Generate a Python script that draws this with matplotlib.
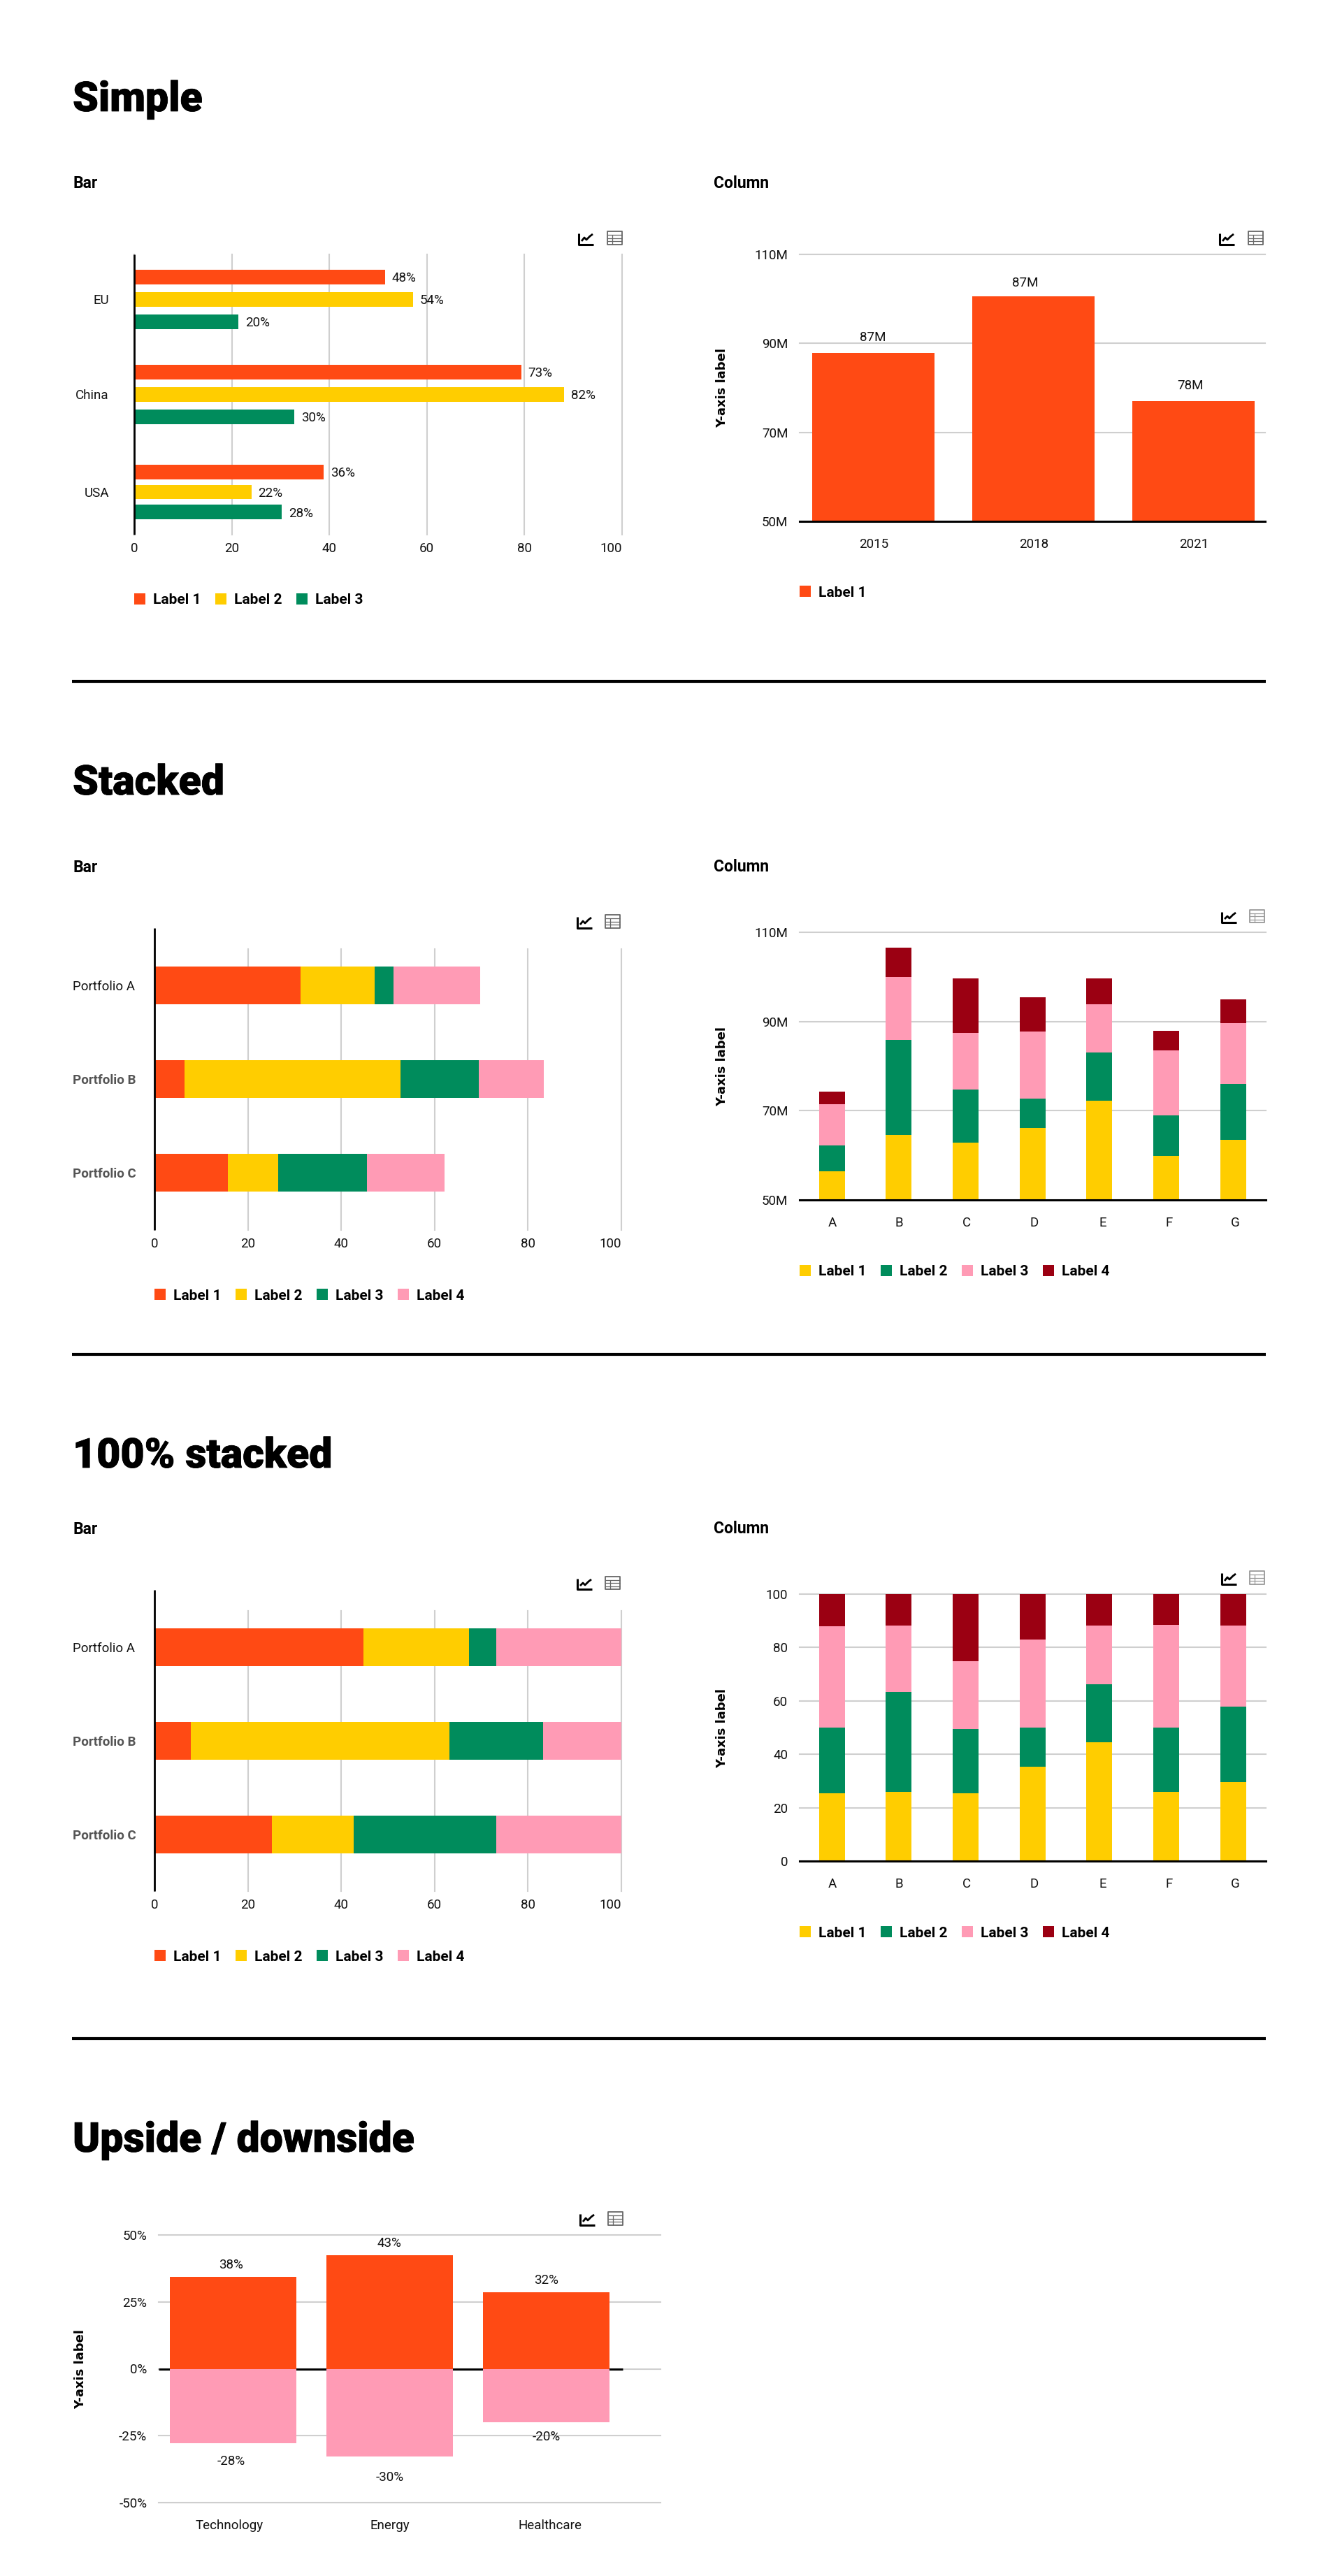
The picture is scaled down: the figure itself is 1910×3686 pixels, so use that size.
import matplotlib
matplotlib.use('Agg')
import matplotlib.pyplot as plt
import matplotlib.patheffects as pe
import numpy as np
from matplotlib.lines import Line2D
from matplotlib.patches import Rectangle

W = 1910
H = 3686

ORANGE = '#FF4A14'
YELLOW = '#FFCD00'
GREEN = '#008C5C'
PINK = '#FF9BB5'
RED = '#9B0012'
GRID = '#CFCFCF'

# simple bar
bar_groups = ['EU', 'China', 'USA']
bar_legend = ['Label 1', 'Label 2', 'Label 3']
bar_values = [[51.4, 57.1, 21.4], [79.3, 88.1, 32.8], [38.8, 24.0, 30.2]]
bar_labels = [['48%', '54%', '20%'], ['73%', '82%', '30%'], ['36%', '22%', '28%']]

# simple column
col_years = ['2015', '2018', '2021']
col_values = [87.9, 100.5, 77.0]
col_labels = ['87M', '87M', '78M']

# stacked bar
portfolios = ['Portfolio A', 'Portfolio B', 'Portfolio C']
stack_1 = [31.3, 6.5, 15.7]
stack_2 = [15.8, 46.2, 10.8]
stack_3 = [4.1, 16.8, 19.0]
stack_4 = [18.6, 13.9, 16.6]

# stacked column
letters = ['A', 'B', 'C', 'D', 'E', 'F', 'G']
stcol_1 = [6.4, 14.6, 12.8, 16.2, 22.2, 9.9, 13.5]
stcol_2 = [5.8, 21.3, 11.9, 6.5, 10.8, 9.0, 12.5]
stcol_3 = [9.2, 14.0, 12.7, 15.0, 10.8, 14.7, 13.6]
stcol_4 = [2.9, 6.7, 12.3, 7.8, 5.9, 4.3, 5.3]

# 100% bar
full_1 = [44.7, 7.8, 25.2]
full_2 = [22.7, 55.4, 17.4]
full_3 = [5.8, 20.0, 30.6]
full_4 = [26.8, 16.8, 26.8]

# 100% column
fullcol_1 = [25.5, 25.8, 25.5, 35.3, 44.5, 25.8, 29.7]
fullcol_2 = [24.4, 37.6, 24.0, 14.6, 21.6, 24.1, 28.1]
fullcol_3 = [38.0, 24.8, 25.5, 33.2, 22.0, 38.7, 30.4]
fullcol_4 = [12.1, 11.8, 25.0, 16.9, 11.9, 11.4, 11.8]

# upside / downside
sectors = ['Technology', 'Energy', 'Healthcare']
upside = [34.3, 42.4, 28.5]
downside = [-27.9, -32.8, -20.1]
upside_labels = ['38%', '43%', '32%']
downside_labels = ['-28%', '-30%', '-20%']

plt.rcParams['font.family'] = ['Roboto', 'DejaVu Sans']
plt.rcParams['font.size'] = 13.5
plt.rcParams['text.color'] = '#111111'
plt.rcParams['xtick.color'] = '#111111'
plt.rcParams['ytick.color'] = '#111111'

fig = plt.figure(figsize=(W / 100, H / 100), dpi=100, facecolor='white')


def fx(x):
    return x / W


def fy(y):
    return 1 - y / H


def add_ax(left, top, right, bottom):
    ax = fig.add_axes([fx(left), fy(bottom), (right - left) / W, (bottom - top) / H])
    for side in ax.spines:
        ax.spines[side].set_visible(False)
    ax.tick_params(length=0)
    ax.set_axisbelow(True)
    ax.patch.set_alpha(0)
    return ax


def fig_line(xs, ys, color='black', lw=2.2, **kw):
    fig.add_artist(Line2D([fx(x) for x in xs], [fy(y) for y in ys], color=color, lw=lw,
                          transform=fig.transFigure, solid_capstyle='butt', **kw))


def grid_on(ax, axis):
    ax.grid(True, axis=axis, color=GRID, lw=1.5)
    lines = ax.get_xgridlines() if axis == 'x' else ax.get_ygridlines()
    for line in lines:
        line.set_clip_on(False)


def heading(text, x, y):
    fig.text(fx(x), fy(y), text, fontsize=42.5, fontweight='black', family=['Roboto', 'DejaVu Sans'],
             color='black', va='baseline',
             path_effects=[pe.withStroke(linewidth=0.6, foreground='black')])


def subheading(text, x, y):
    fig.text(fx(x), fy(y), text, fontsize=16.5, fontweight='bold', color='black', va='baseline')


def legend(x, y, labels, colors):
    for i in range(len(labels)):
        left = x + i * 116
        fig.add_artist(Rectangle((fx(left), fy(y + 8)), 16 / W, 16 / H, color=colors[i],
                                 transform=fig.transFigure, lw=0))
        fig.text(fx(left + 27), fy(y), labels[i], fontsize=15, fontweight='bold', color='black',
                 va='center_baseline')


def icons(x1, y1, x2, y2, table_color='#666666'):
    w = 21
    top = y1 - 3
    h = y2 - top
    fig_line([x1, x1, x1 + w], [y1, y2, y2], lw=2.2)
    zig_x = [x1 + 4, x1 + 8, x1 + 11, x1 + 16, x1 + 20]
    zig_y = [y2 - 5, y1 + 6, y1 + 9, y1 + 4, y1 + 1]
    fig_line(zig_x, zig_y, lw=2)
    fig.add_artist(Rectangle((fx(x2), fy(y2)), w / W, h / H, fc='none', ec=table_color, lw=1.3,
                             joinstyle='round', transform=fig.transFigure))
    for t in [0.28, 0.52, 0.76]:
        fig_line([x2, x2 + w], [top + t * h, top + t * h], color=table_color, lw=0.9)
    fig_line([x2 + 7, x2 + 7], [top + 0.28 * h, y2], color=table_color, lw=0.9)


def hbar_chart(left, top, right, bottom, axis_top, row_top, pitch, rows, series, colors, height, pad):
    ax = add_ax(left, top, right, bottom)
    start = np.zeros(len(rows))
    y = np.arange(len(rows))
    for i in range(len(series)):
        ax.barh(y, series[i], left=start, height=height, color=colors[i], lw=0)
        start = start + np.array(series[i])
    ax.set_xlim(0, 100)
    ax.set_ylim((bottom - row_top) / pitch, (top - row_top) / pitch)
    ax.set_xticks([0, 20, 40, 60, 80, 100])
    ax.set_yticks(y)
    ax.set_yticklabels(rows)
    ax.tick_params(axis='x', pad=8)
    ax.tick_params(axis='y', pad=pad)
    ax.get_xticklabels()[-1].set_ha('right')
    for label in ax.get_yticklabels():
        label.set_ha('left')
    ylabels = ax.get_yticklabels()
    for label in ylabels[1:]:
        label.set_fontweight('bold')
        label.set_color('#555555')
    grid_on(ax, 'x')
    ax.grid(False, axis='y')
    fig_line([left, left], [axis_top, bottom], lw=2)
    return ax


def column_stack(left, top, right, bottom, series, colors, names, base, y_max, ticks, ticklabels, nudge):
    ax = add_ax(left, top, right, bottom)
    x = np.arange(len(names))
    start = np.full(len(names), float(base))
    for i in range(len(series)):
        ax.bar(x, series[i], bottom=start, width=0.387, color=colors[i], lw=0)
        start = start + np.array(series[i])
    ax.set_xlim(-0.485, 6.491)
    ax.set_ylim(base, y_max)
    ax.set_yticks(ticks)
    ax.set_yticklabels(ticklabels)
    ax.set_xticks(x + np.array(nudge))
    ax.set_xticklabels(names)
    ax.tick_params(axis='x', pad=17)
    ax.tick_params(axis='y', pad=12)
    grid_on(ax, 'y')
    ax.spines['bottom'].set_visible(True)
    ax.spines['bottom'].set_linewidth(2.2)
    ax.spines['bottom'].set_color('black')
    return ax


def y_title(x, y):
    fig.text(fx(x), fy(y), 'Y-axis label', rotation=90, fontsize=13, fontweight='bold', color='black',
             family=['DejaVu Sans'], ha='center', va='center')


# ---- simple
heading('Simple', 104, 159)
subheading('Bar', 104, 269)
ax = add_ax(192, 364, 890, 765)
group_pos = [0, 0.986, 2.0]
group_step = [0.232, 0.232, 0.207]
bar_colors = [ORANGE, YELLOW, GREEN]
for g in range(len(bar_groups)):
    for s in range(len(bar_legend)):
        ypos = group_pos[g] + (s - 1) * group_step[g]
        ax.barh(ypos, bar_values[g][s], height=0.152, color=bar_colors[s], lw=0)
        ax.annotate(bar_labels[g][s], (bar_values[g][s], ypos), xytext=(10, 0), textcoords='offset pixels',
                    va='center_baseline', ha='left')
ax.set_xlim(0, 100)
ax.set_ylim(2.442, -0.464)
ax.set_xticks([0, 20, 40, 60, 80, 100])
ax.set_yticks(group_pos)
ax.set_yticklabels(bar_groups)
ax.tick_params(axis='x', pad=8)
ax.tick_params(axis='y', pad=26)
ax.get_xticklabels()[-1].set_ha('right')
grid_on(ax, 'x')
fig_line([192, 192], [364, 765], lw=2)
legend(192, 857, bar_legend, bar_colors)
icons(828, 334, 869, 350)

subheading('Column', 1021, 269)
ax = add_ax(1144, 364, 1810, 746)
x = np.arange(len(col_years))
ax.bar(x, col_values, bottom=0, width=0.7646, color=ORANGE, lw=0)
col_dx = [-1, -12, -5]
col_dy = [24, 21, 24]
for i in x:
    ax.annotate(col_labels[i], (i, col_values[i]), xytext=(col_dx[i], col_dy[i]), textcoords='offset pixels',
                ha='center', va='center_baseline')
ax.set_xlim(-0.4616, 2.446)
ax.set_ylim(50, 110)
ax.set_yticks([50, 70, 90, 110])
ax.set_yticklabels(['50M', '70M', '90M', '110M'])
ax.set_xticks(x)
ax.set_xticklabels(col_years)
ax.tick_params(axis='x', pad=17)
ax.tick_params(axis='y', pad=12)
grid_on(ax, 'y')
ax.spines['bottom'].set_visible(True)
ax.spines['bottom'].set_linewidth(2.2)
y_title(1033, 555)
legend(1144, 846, ['Label 1'], [ORANGE])
icons(1745, 334, 1786, 350)

fig_line([103, 1811], [975, 975], lw=3)

# ---- stacked
stack_colors = [ORANGE, YELLOW, GREEN, PINK]
four = ['Label 1', 'Label 2', 'Label 3', 'Label 4']
heading('Stacked', 104, 1137)
subheading('Bar', 104, 1248)
hbar_chart(221, 1358, 889, 1760, 1328, 1410, 134, portfolios, [stack_1, stack_2, stack_3, stack_4],
           stack_colors, 0.4, 84)
legend(221, 1852, four, stack_colors)
icons(826, 1312, 866, 1328)

column_colors = [YELLOW, GREEN, PINK, RED]
subheading('Column', 1021, 1247)
column_stack(1144, 1334, 1811, 1717, [stcol_1, stcol_2, stcol_3, stcol_4], column_colors, letters, 50, 110,
             [50, 70, 90, 110], ['50M', '70M', '90M', '110M'], [0, 0, .015, .03, .05, .04, .035])
y_title(1033, 1526)
legend(1144, 1818, four, column_colors)
icons(1748, 1305, 1788, 1320, '#999999')

fig_line([103, 1811], [1938, 1938], lw=3)

# ---- 100% stacked
heading('100% stacked', 104, 2100)
subheading('Bar', 104, 2195)
hbar_chart(221, 2305, 889, 2706, 2275, 2357, 134, portfolios, [full_1, full_2, full_3, full_4],
           stack_colors, 0.4, 84)
legend(221, 2798, four, stack_colors)
icons(826, 2259, 866, 2274)

subheading('Column', 1021, 2194)
column_stack(1144, 2281, 1811, 2663, [fullcol_1, fullcol_2, fullcol_3, fullcol_4], column_colors, letters, 0, 100,
             [0, 20, 40, 60, 80, 100], ['0', '20', '40', '60', '80', '100'], [0, 0, .015, .03, .05, .04, .035])
y_title(1033, 2473)
legend(1144, 2764, four, column_colors)
icons(1748, 2251, 1788, 2267, '#999999')

fig_line([103, 1811], [2917, 2917], lw=3)

# ---- upside / downside
heading('Upside / downside', 104, 3079)
ax = add_ax(227, 3198, 945, 3581)
x = np.arange(len(sectors))
ax.hlines(0, -0.476, 2.491, color='black', lw=2.2, zorder=0.8)
ax.bar(x, upside, width=0.809, color=ORANGE, lw=0)
ax.bar(x, downside, width=0.809, color=PINK, lw=0)
up_dx = [-3, -0.6, 0]
down_dx = [-3, 0.6, 0]
down_dy = [-24, -28, -19]
for i in x:
    ax.annotate(upside_labels[i], (i, upside[i]), xytext=(up_dx[i], 19), textcoords='offset pixels',
                ha='center', va='center_baseline')
    ax.annotate(downside_labels[i], (i, downside[i]), xytext=(down_dx[i], down_dy[i]), textcoords='offset pixels',
                ha='center', va='center_baseline')
ax.set_xlim(-0.476, 2.731)
ax.set_ylim(-50, 50)
ax.set_yticks([-50, -25, 0, 25, 50])
ax.set_yticklabels(['-50%', '-25%', '0%', '25%', '50%'])
ax.set_xticks(x + np.array([-0.026, 0.003, 0.024]))
ax.set_xticklabels(sectors)
ax.tick_params(axis='x', pad=17)
ax.tick_params(axis='y', pad=12)
grid_on(ax, 'y')
y_title(115, 3390)
icons(830, 3168, 870, 3184)

fig.savefig('out.png', dpi=100, facecolor='white')
